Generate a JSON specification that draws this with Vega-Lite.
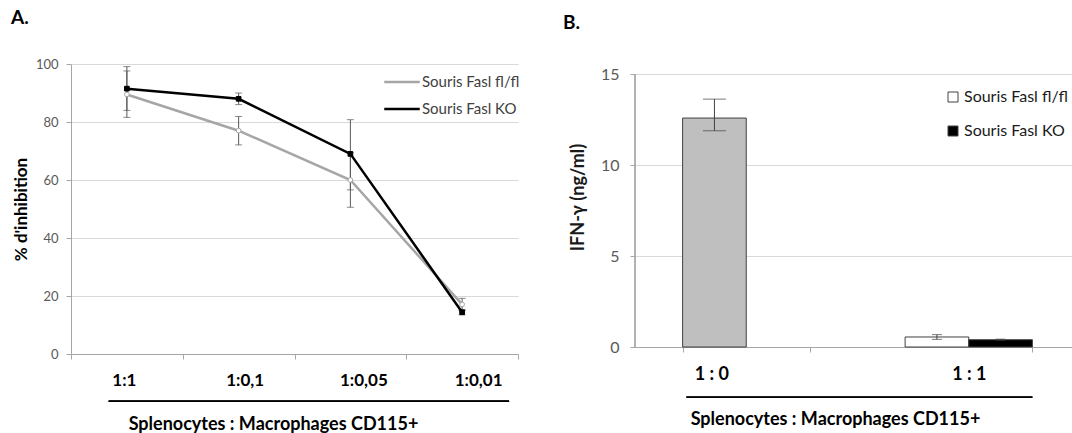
{
  "$schema": "https://vega.github.io/schema/vega-lite/v6.json",
  "background": "white",
  "padding": {"left": 11, "top": 9, "right": 0, "bottom": 0},
  "spacing": 43,
  "config": {
    "font": "Lato",
    "view": {"stroke": null},
    "title": {"color": "#000000", "fontWeight": "bold"}
  },
  "resolve": {
    "scale": {"color": "independent", "fill": "independent"},
    "legend": {"color": "independent", "fill": "independent"}
  },
  "hconcat": [
    {
      "width": 447,
      "height": 290,
      "title": {"text": "A.", "anchor": "start", "fontSize": 19, "offset": 30, "dx": -1},
      "data": {
        "values": [
          {"ratio": "1:1", "souris": "Souris Fasl fl/fl", "value": 89.5, "low": 81.6, "high": 97.6},
          {"ratio": "1:0,1", "souris": "Souris Fasl fl/fl", "value": 77, "low": 72.1, "high": 81.9},
          {"ratio": "1:0,05", "souris": "Souris Fasl fl/fl", "value": 60, "low": 50.6, "high": 69.4},
          {"ratio": "1:0,01", "souris": "Souris Fasl fl/fl", "value": 17.1, "low": 15, "high": 19.2},
          {"ratio": "1:1", "souris": "Souris Fasl KO", "value": 91.5, "low": 84, "high": 99.1},
          {"ratio": "1:0,1", "souris": "Souris Fasl KO", "value": 88, "low": 86, "high": 90},
          {"ratio": "1:0,05", "souris": "Souris Fasl KO", "value": 69, "low": 56.6, "high": 80.8},
          {"ratio": "1:0,01", "souris": "Souris Fasl KO", "value": 14.4, "low": 13.5, "high": 15.3}
        ]
      },
      "encoding": {
        "x": {
          "field": "ratio",
          "type": "nominal",
          "scale": {"domain": ["1:1", "1:0,1", "1:0,05", "1:0,01"], "paddingInner": 0, "paddingOuter": 0},
          "axis": {
            "title": "Splenocytes :  Macrophages CD115+",
            "labelAngle": 0,
            "labelFontSize": 17,
            "labelFontWeight": "bold",
            "labelColor": "#000000",
            "labelBaseline": "middle",
            "labelPadding": 21,
            "labelOffset": {"condition": [
              {"test": "datum.value === '1:1'", "value": -3},
              {"test": "datum.value === '1:0,1'", "value": 6},
              {"test": "datum.value === '1:0,05'", "value": 13}
            ], "value": 16},
            "tickBand": "extent",
            "tickSize": 5,
            "tickColor": "#a6a6a6",
            "domainColor": "#a6a6a6",
            "titleFontSize": 18,
            "titleFontWeight": "bold",
            "titleColor": "#000000",
            "titleX": 202,
            "titleY": 70,
            "titleBaseline": "middle",
            "titleAlign": "center"
          }
        }
      },
      "layer": [
        {
          "mark": {"type": "rule", "color": "#595959", "strokeWidth": 1},
          "encoding": {
            "y": {"field": "low", "type": "quantitative", "title": "% d'inhibition", "scale": {"domain": [0, 100], "nice": false}},
            "y2": {"field": "high"}
          }
        },
        {
          "mark": {"type": "tick", "color": "#595959", "thickness": 1, "size": 7},
          "encoding": {"y": {"field": "low", "type": "quantitative", "title": "% d'inhibition", "scale": {"domain": [0, 100], "nice": false}}}
        },
        {
          "mark": {"type": "tick", "color": "#595959", "thickness": 1, "size": 7},
          "encoding": {"y": {"field": "high", "type": "quantitative", "title": "% d'inhibition", "scale": {"domain": [0, 100], "nice": false}}}
        },
        {
          "mark": {"type": "line", "strokeWidth": 2.5},
          "encoding": {
            "y": {
              "field": "value",
              "type": "quantitative",
              "title": "% d'inhibition",
              "scale": {"domain": [0, 100], "nice": false},
              "axis": {
                "values": [0, 20, 40, 60, 80, 100],
                "gridColor": "#d9d9d9",
                "domainColor": "#a6a6a6",
                "tickColor": "#a6a6a6",
                "tickSize": 5,
                "labelFontSize": 13,
                "labelColor": "#595959",
                "labelPadding": 8,
                "titleFontSize": 17,
                "titleFontWeight": "bold",
                "titleColor": "#000000",
                "titleX": -50,
                "titleY": 145,
                "titleAngle": -90,
                "titleBaseline": "middle",
                "titleAlign": "center"
              }
            },
            "color": {
              "field": "souris",
              "type": "nominal",
              "scale": {"domain": ["Souris Fasl fl/fl", "Souris Fasl KO"], "range": ["#a6a6a6", "#000000"]},
              "legend": {
                "orient": "none",
                "legendX": 312,
                "legendY": -1,
                "title": null,
                "symbolType": "stroke",
                "symbolSize": 1260,
                "symbolStrokeWidth": 2.5,
                "labelFontSize": 15,
                "labelColor": "#404040",
                "labelOffset": 1,
                "rowPadding": -8,
                "padding": 0
              }
            }
          }
        },
        {
          "mark": {"type": "point", "filled": true, "size": 22, "strokeWidth": 1, "opacity": 1},
          "encoding": {
            "y": {"field": "value", "type": "quantitative", "title": "% d'inhibition", "scale": {"domain": [0, 100], "nice": false}},
            "fill": {"condition": {"test": "datum.souris === 'Souris Fasl KO'", "value": "#000000"}, "value": "#ffffff"},
            "stroke": {"condition": {"test": "datum.souris === 'Souris Fasl KO'", "value": "#000000"}, "value": "#a6a6a6"},
            "shape": {"condition": {"test": "datum.souris === 'Souris Fasl KO'", "value": "square"}, "value": "circle"}
          }
        },
        {
          "mark": {"type": "rule", "color": "#000000", "strokeWidth": 1.2},
          "encoding": {
            "x": {"datum": "1:1", "type": "nominal", "bandPosition": 0.338},
            "x2": {"datum": "1:0,01", "bandPosition": 0.92},
            "y": {"datum": -16.3, "type": "quantitative", "scale": {"domain": [0, 100], "nice": false}}
          }
        }
      ]
    },
    {
      "width": 445,
      "height": 283,
      "title": {"text": "B.", "anchor": "start", "fontSize": 19, "offset": 31, "dx": -6},
      "data": {
        "values": [
          {"ratio": "1 : 0", "souris": "Souris Fasl fl/fl", "value": 12.58, "low": 11.88, "high": 13.62},
          {"ratio": "1 : 1", "souris": "Souris Fasl fl/fl", "value": 0.55, "low": 0.42, "high": 0.68},
          {"ratio": "1 : 1", "souris": "Souris Fasl KO", "value": 0.4, "low": 0.37, "high": 0.43}
        ]
      },
      "encoding": {
        "x": {
          "field": "ratio",
          "type": "nominal",
          "scale": {"domain": ["1 : 0", "1 : 1"], "paddingInner": 0.428, "paddingOuter": 0.214},
          "axis": {
            "title": "Splenocytes : Macrophages CD115+",
            "labelAngle": 0,
            "labelFontSize": 18,
            "labelFontWeight": "bold",
            "labelColor": "#000000",
            "labelBaseline": "middle",
            "labelPadding": 22,
            "labelOffset": {"condition": {"test": "datum.value === '1 : 0'", "value": -35}, "value": 0},
            "tickBand": "extent",
            "tickSize": 5,
            "tickColor": "#a6a6a6",
            "domainColor": "#a6a6a6",
            "titleFontSize": 18,
            "titleFontWeight": "bold",
            "titleColor": "#000000",
            "titleX": 200,
            "titleY": 72,
            "titleBaseline": "middle",
            "titleAlign": "center"
          }
        }
      },
      "layer": [
        {
          "transform": [{"filter": "datum.ratio === '1 : 0'"}],
          "mark": {"type": "bar", "stroke": "#404040", "strokeWidth": 1, "fill": "#bfbfbf"},
          "encoding": {
            "xOffset": {"field": "souris", "type": "nominal", "scale": {"domain": ["Souris Fasl fl/fl", "Souris Fasl KO"], "paddingInner": 0, "paddingOuter": 0}},
            "y": {
              "field": "value",
              "type": "quantitative",
              "title": "IFN-γ (ng/ml)",
              "scale": {"domain": [0, 15.55], "nice": false},
              "axis": {
                "values": [0, 5, 10, 15],
                "domain": false,
                "gridColor": "#d9d9d9",
                "tickColor": "#a6a6a6",
                "tickSize": 5,
                "labelFontSize": 16,
                "labelColor": "#595959",
                "labelPadding": 11,
                "titleFontSize": 18,
                "titleFontWeight": "bold",
                "titleColor": "#1a1a1a",
                "titleX": -57,
                "titleY": 133,
                "titleAngle": -90,
                "titleBaseline": "middle",
                "titleAlign": "center"
              }
            }
          }
        },
        {
          "transform": [{"filter": "datum.ratio === '1 : 1'"}],
          "mark": {"type": "bar", "stroke": "#404040", "strokeWidth": 1},
          "encoding": {
            "xOffset": {"field": "souris", "type": "nominal"},
            "y": {"field": "value", "type": "quantitative", "title": "IFN-γ (ng/ml)", "scale": {"domain": [0, 15.55], "nice": false}},
            "fill": {
              "field": "souris",
              "type": "nominal",
              "scale": {"domain": ["Souris Fasl fl/fl", "Souris Fasl KO"], "range": ["#ffffff", "#000000"]},
              "legend": {
                "orient": "none",
                "legendX": 310,
                "legendY": 25,
                "title": null,
                "symbolType": "square",
                "symbolSize": 100,
                "symbolStrokeColor": "#404040",
                "symbolStrokeWidth": 1,
                "labelFontSize": 16,
                "labelColor": "#1a1a1a",
                "labelOffset": 3,
                "rowPadding": 18,
                "padding": 0
              }
            }
          }
        },
        {
          "mark": {"type": "rule", "color": "#404040", "strokeWidth": 1},
          "encoding": {
            "xOffset": {"field": "souris", "type": "nominal"},
            "y": {"field": "low", "type": "quantitative", "title": "IFN-γ (ng/ml)", "scale": {"domain": [0, 15.55], "nice": false}},
            "y2": {"field": "high"}
          }
        },
        {
          "transform": [{"filter": "datum.ratio === '1 : 0'"}],
          "layer": [
            {
              "mark": {"type": "tick", "color": "#404040", "thickness": 1, "size": 23},
              "encoding": {"xOffset": {"field": "souris", "type": "nominal"}, "y": {"field": "low", "type": "quantitative", "title": "IFN-γ (ng/ml)", "scale": {"domain": [0, 15.55], "nice": false}}}
            },
            {
              "mark": {"type": "tick", "color": "#404040", "thickness": 1, "size": 23},
              "encoding": {"xOffset": {"field": "souris", "type": "nominal"}, "y": {"field": "high", "type": "quantitative", "title": "IFN-γ (ng/ml)", "scale": {"domain": [0, 15.55], "nice": false}}}
            }
          ]
        },
        {
          "transform": [{"filter": "datum.ratio === '1 : 1'"}],
          "layer": [
            {
              "mark": {"type": "tick", "color": "#404040", "thickness": 1, "size": 10},
              "encoding": {"xOffset": {"field": "souris", "type": "nominal"}, "y": {"field": "low", "type": "quantitative", "title": "IFN-γ (ng/ml)", "scale": {"domain": [0, 15.55], "nice": false}}}
            },
            {
              "mark": {"type": "tick", "color": "#404040", "thickness": 1, "size": 10},
              "encoding": {"xOffset": {"field": "souris", "type": "nominal"}, "y": {"field": "high", "type": "quantitative", "title": "IFN-γ (ng/ml)", "scale": {"domain": [0, 15.55], "nice": false}}}
            }
          ]
        },
        {
          "mark": {"type": "rule", "color": "#a6a6a6", "strokeWidth": 1},
          "encoding": {
            "x": {"datum": "1 : 0", "type": "nominal", "bandPosition": -0.374},
            "y": {"datum": 0, "type": "quantitative", "scale": {"domain": [0, 15.55], "nice": false}},
            "y2": {"datum": 15}
          }
        },
        {
          "mark": {"type": "rule", "color": "#000000", "strokeWidth": 1.2},
          "encoding": {
            "x": {"datum": "1 : 0", "type": "nominal", "bandPosition": 0.03},
            "x2": {"datum": "1 : 1", "bandPosition": 1.0},
            "y": {"datum": -2.75, "type": "quantitative", "scale": {"domain": [0, 15.55], "nice": false}}
          }
        }
      ]
    }
  ]
}
